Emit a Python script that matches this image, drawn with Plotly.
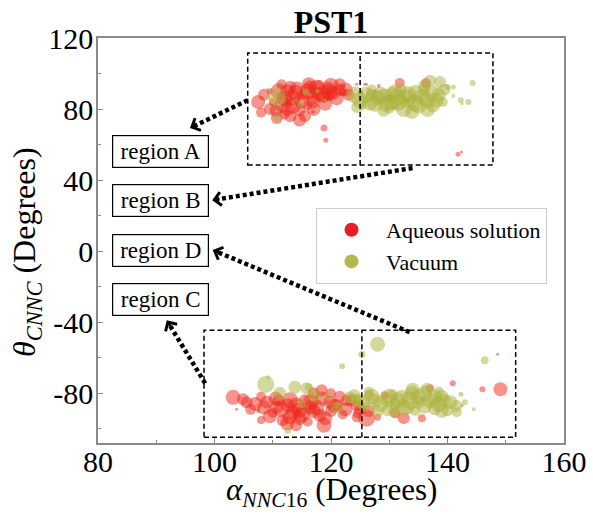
import plotly.graph_objects as go
import math

# ---------------- data ----------------
# Aqueous solution (red)
aq_x = [114.1, 116.4, 119.5, 120.3, 111.7, 113.4, 114.6, 110.7, 114.6, 117.6, 116.9, 118.6,
        116.9, 118.8, 119.1, 124.4, 125.8, 125.3, 126.3, 131.8, 136.3, 128.2, 126.1, 127.5,
        131.0, 141.8, 142.4, 112.5, 115.5, 118.0, 121.5, 113.0, 110.0, 112.0, 116.0, 119.5,
        122.0, 109.5, 117.2, 130.0, 133.0,
        107.5, 108.5, 109.5, 111.0, 112.0, 113.5, 114.0, 115.0, 116.0, 117.0, 117.5, 118.5,
        119.0, 120.0, 121.0, 122.5, 123.0, 112.5, 110.5, 113.0, 115.5, 116.2, 111.5, 119.7,
        108.0, 121.5,
        103.2, 104.9, 106.2, 103.8, 109.0, 110.7, 112.6, 114.6, 116.4, 112.9, 114.6, 118.1,
        118.4, 119.8, 121.0, 122.7, 124.4, 124.4, 118.8, 111.7, 126.1, 124.6, 128.0, 131.0,
        132.5, 135.6, 129.2, 137.0, 140.9, 146.0, 149.1, 148.6, 108.0, 111.0, 115.5, 117.0,
        120.0, 122.0, 113.5, 110.0, 116.0, 107.5,
        105.5, 107.0, 108.5, 109.5, 110.5, 111.5, 112.5, 113.0, 114.0, 115.0, 116.5, 117.5,
        118.5, 119.0, 120.5, 121.5, 122.5, 123.5, 125.0, 126.5, 117.0, 120.0, 114.0, 108.0]
aq_y = [91.8, 92.4, 91.8, 89.0, 82.3, 86.2, 79.4, 75.0, 73.8, 89.0, 84.0, 86.8,
        78.3, 69.3, 62.5, 94.0, 94.0, 89.6, 89.0, 94.6, 94.6, 93.0, 94.0, 89.6,
        81.1, 54.6, 55.8, 90.0, 88.0, 93.5, 91.0, 92.5, 84.0, 77.0, 82.0, 87.0,
        89.5, 90.0, 86.0, 86.0, 85.0,
        84.0, 88.0, 80.0, 90.0, 86.0, 82.0, 89.0, 85.0, 90.0, 80.0, 92.0, 88.0,
        83.0, 93.0, 86.0, 91.0, 88.0, 80.0, 79.0, 76.0, 76.0, 94.0, 94.0, 89.5,
        78.0, 94.0,
        -82.3, -83.4, -89.0, -89.0, -85.0, -87.9, -86.8, -89.6, -87.9, -93.5, -94.0, -92.4,
        -78.3, -85.0, -86.8, -84.0, -86.8, -93.5, -98.0, -95.2, -94.0, -91.3, -93.5, -91.3,
        -94.0, -94.0, -81.1, -77.2, -74.4, -77.7, -77.7, -58.0, -82.0, -84.0, -84.0, -90.0,
        -90.0, -92.0, -91.0, -91.0, -96.0, -90.0,
        -85.0, -86.0, -88.0, -93.0, -83.0, -89.0, -97.0, -84.0, -87.0, -92.0, -85.0, -88.0,
        -83.0, -94.0, -87.0, -82.0, -89.0, -84.0, -89.0, -90.0, -80.0, -80.0, -98.0, -95.0]
aq_s = [13, 13, 13, 14, 16, 16, 12, 12, 13, 13, 13, 12,
        4, 7, 5, 3, 3, 3, 3, 10, 10, 4, 3, 4,
        4, 5, 3, 14, 12, 10, 12, 12, 8, 10, 10, 10,
        8, 6, 10, 8, 6,
        14, 12, 12, 16, 16, 16, 16, 16, 16, 14, 16, 16,
        14, 16, 14, 14, 12, 14, 12, 12, 12, 14, 10, 16,
        10, 12,
        15, 12, 11, 3, 13, 13, 14, 15, 14, 14, 14, 13,
        12, 13, 12, 12, 12, 10, 15, 12, 17, 10, 7, 10,
        12, 8, 8, 8, 6, 6, 14, 3, 10, 12, 12, 14,
        12, 10, 14, 10, 10, 4,
        12, 14, 14, 14, 14, 16, 14, 16, 16, 16, 16, 16,
        14, 14, 14, 12, 14, 12, 12, 12, 12, 10, 12, 8]

# Vacuum (olive)
vac_x = [110.7, 109.0, 110.8, 115.7, 114.8, 117.7, 118.4, 114.0, 124.1, 126.7, 129.2, 131.5,
         133.2, 134.4, 135.6, 137.3, 138.7, 138.1, 136.6, 139.2, 133.9, 130.4, 128.0, 140.0,
         141.0, 141.0, 142.3, 143.6, 144.3, 127.0, 132.0, 136.0, 130.0, 125.5, 142.5, 119.0,
         125.0, 126.0, 127.5, 128.5, 129.5, 130.5, 131.5, 132.5, 133.0, 134.5, 135.0, 136.5,
         137.5, 138.5, 139.5, 129.0, 131.0, 127.0, 124.5, 136.0, 137.0,
         108.8, 109.2, 111.2, 113.8, 115.8, 117.2, 115.0, 121.0, 123.2, 124.4, 121.9, 112.6,
         116.2, 128.0, 125.3, 146.4, 144.5, 142.3, 142.5, 124.6, 127.5, 129.7, 132.1, 133.9,
         136.1, 137.8, 139.5, 140.0, 141.6, 133.2, 129.7, 137.8, 125.8, 126.5, 131.0, 135.0,
         138.5, 130.5, 134.5, 119.5,
         124.0, 125.5, 127.0, 128.5, 130.0, 131.5, 132.5, 133.5, 135.0, 136.0, 137.0, 138.5,
         139.0, 140.5, 141.5, 128.0, 131.0, 134.0, 136.5, 139.0, 126.5, 143.0]
vac_y = [86.8, 91.0, 75.0, 89.6, 82.8, 90.0, 84.0, 85.0, 87.9, 84.0, 86.8, 86.8,
         88.0, 83.4, 86.8, 89.0, 95.2, 85.0, 79.4, 84.0, 78.3, 83.4, 86.2, 92.4,
         92.4, 87.3, 85.0, 84.0, 94.6, 88.0, 91.0, 91.0, 80.0, 82.0, 83.0, 85.0,
         85.0, 88.0, 83.0, 88.0, 83.0, 88.0, 84.0, 80.0, 86.0, 89.0, 82.0, 85.0,
         82.0, 88.0, 91.0, 79.0, 90.0, 91.0, 81.0, 93.0, 96.0,
         -75.0, -71.0, -80.0, -76.6, -77.2, -81.1, -86.2, -87.9, -82.3, -84.0, -64.8, -100.8,
         -76.6, -52.4, -58.0, -61.4, -89.0, -80.5, -86.8, -84.0, -84.0, -84.0, -82.3, -80.0,
         -80.0, -82.3, -84.0, -89.6, -90.7, -87.9, -89.6, -88.5, -87.9, -81.0, -86.0, -85.0,
         -79.0, -80.5, -90.0, -82.0,
         -81.0, -85.0, -82.0, -86.0, -82.0, -84.0, -88.0, -84.0, -82.0, -87.0, -84.0, -86.0,
         -82.0, -85.0, -87.0, -90.0, -90.0, -78.0, -77.5, -90.0, -79.0, -85.0]
vac_s = [18, 3, 8, 7, 7, 4, 3, 4, 17, 17, 17, 17,
         17, 17, 16, 16, 12, 15, 14, 10, 14, 15, 15, 6,
         5, 4, 6, 6, 6, 12, 12, 12, 10, 8, 3, 4,
         16, 16, 16, 16, 16, 16, 18, 16, 18, 16, 16, 16,
         14, 14, 12, 12, 14, 10, 12, 12, 12,
         17, 4, 13, 13, 12, 13, 8, 12, 12, 12, 6, 7,
         8, 15, 7, 8, 4, 5, 4, 13, 14, 14, 15, 15,
         15, 15, 13, 12, 10, 14, 12, 14, 10, 10, 12, 13,
         10, 10, 10, 8,
         12, 14, 16, 16, 16, 16, 16, 18, 16, 16, 16, 16,
         14, 14, 12, 12, 14, 14, 12, 14, 10, 6]

series_names = ["Aqueous solution", "Vacuum"]

region_labels = ["region A", "region B", "region D", "region C"]
region_y = [56.3, 28.7, 0.6, -27.0]
region_x = 90.8

# arrows: (tail_x, tail_y, head_x, head_y)
arrows = [(105.7, 85.0, 95.8, 69.3),
          (134.0, 46.8, 99.6, 28.7),
          (133.5, -45.6, 99.7, 0.6),
          (98.4, -74.4, 91.8, -38.9)]

# dashed boxes: (x0, x1, y0, y1, divider_x)
boxes = [(105.7, 147.8, 48.5, 111.5, 125.0),
         (98.2, 151.7, -104.8, -44.5, 125.3)]

x_ticks = [80, 100, 120, 140, 160]
y_ticks = [-80, -40, 0, 40, 80, 120]
x_minor = [90, 110, 130, 150]
y_minor = [-100, -60, -20, 20, 60, 100]

XR = [80, 160]
YR = [-108, 120]

FONT = "Liberation Serif, Times New Roman, serif"
RED = "rgba(236,34,20,0.7)"
OLIVE = "rgba(172,178,60,0.72)"
RED_LEG = "rgb(232,30,38)"
OLIVE_LEG = "rgb(180,184,78)"

W, H = 593, 514
ML, MR, MT, MB = 98, 29, 38, 71
PW, PH = W - ML - MR, H - MT - MB
sx = PW / (XR[1] - XR[0])
sy = PH / (YR[1] - YR[0])

fig = go.Figure()
fig.add_trace(go.Scatter(x=aq_x, y=aq_y, mode="markers", name=series_names[0], showlegend=False,
                         marker=dict(size=aq_s, color=RED, line=dict(width=0))))
fig.add_trace(go.Scatter(x=vac_x, y=vac_y, mode="markers", name=series_names[1], showlegend=False,
                         marker=dict(size=vac_s, color=OLIVE, line=dict(width=0))))
# legend entries
for nm, col in zip(series_names, [RED_LEG, OLIVE_LEG]):
    fig.add_trace(go.Scatter(x=[None], y=[None], mode="markers", name=nm,
                             marker=dict(size=14, color=col, line=dict(width=0))))

shapes = []
for (x0, x1, y0, y1, xd) in boxes:
    shapes.append(dict(type="rect", xref="x", yref="y", x0=x0, x1=x1, y0=y0, y1=y1,
                       line=dict(color="black", width=1.5, dash="5px,3px")))
    shapes.append(dict(type="line", xref="x", yref="y", x0=xd, x1=xd, y0=y0, y1=y1,
                       line=dict(color="black", width=1.5, dash="5px,3px")))

annotations = []
for (tx, ty, hx, hy) in arrows:
    dxp = (tx - hx) * sx
    dyp = -(ty - hy) * sy
    L = math.hypot(dxp, dyp)
    ux, uy = dxp / L, dyp / L
    shx = hx + (ux * 5) / sx
    shy = hy - (uy * 5) / sy
    shapes.append(dict(type="line", xref="x", yref="y", x0=tx, y0=ty, x1=shx, y1=shy,
                       line=dict(color="black", width=4.5, dash="4px,3px")))
    annotations.append(dict(x=hx, y=hy, xref="x", yref="y", ax=ux * 9, ay=uy * 9,
                            showarrow=True, arrowhead=4, arrowwidth=2.6, arrowsize=1.0,
                            arrowcolor="black", text=""))

for lab, yy in zip(region_labels, region_y):
    annotations.append(dict(x=region_x, y=yy, xref="x", yref="y", text=lab, showarrow=False,
                            font=dict(family=FONT, size=23, color="black"),
                            bordercolor="black", borderwidth=1.2, bgcolor="white",
                            width=95, height=31, borderpad=0))

# axis titles
annotations.append(dict(x=(331 - ML) / PW, y=-(492 - (MT + PH)) / PH, xref="paper", yref="paper",
                        text="<i>α</i><sub><i>NNC</i>16</sub> (Degrees)", showarrow=False,
                        xanchor="center", yanchor="middle",
                        font=dict(family=FONT, size=31, color="black")))
annotations.append(dict(x=(27 - ML) / PW, y=((MT + PH) - 252) / PH, xref="paper", yref="paper",
                        text="<i>θ</i><sub><i>CNNC</i></sub> (Degrees)", showarrow=False,
                        textangle=-90, xanchor="center", yanchor="middle",
                        font=dict(family=FONT, size=32, color="black")))

axis_common = dict(showgrid=False, zeroline=False, showline=True, linecolor="#8a8a8a",
                   linewidth=1.5, mirror=True, ticks="inside", ticklen=5, tickwidth=1,
                   tickcolor="#8a8a8a",
                   tickfont=dict(family=FONT, size=30, color="black"))

fig.update_layout(
    width=W, height=H,
    margin=dict(l=ML, r=MR, t=MT, b=MB, autoexpand=False),
    paper_bgcolor="white", plot_bgcolor="white",
    title=dict(text="<b>PST1</b>", x=(ML + PW / 2) / W, xanchor="center",
               y=1 - 22 / H, yanchor="middle", yref="container",
               font=dict(family=FONT, size=32, color="black")),
    xaxis=dict(range=XR, tickvals=x_ticks, ticktext=[str(v) for v in x_ticks],
               ticklabelstandoff=-9,
               minor=dict(tickvals=x_minor, ticks="inside", ticklen=3, tickcolor="#8a8a8a"),
               **axis_common),
    yaxis=dict(range=YR, tickvals=y_ticks, ticktext=[str(v) for v in y_ticks],
               ticklabelstandoff=-3,
               minor=dict(tickvals=y_minor, ticks="inside", ticklen=3, tickcolor="#8a8a8a"),
               **axis_common),
    legend=dict(x=(316 - ML) / PW, y=((MT + PH) - 208) / PH, xanchor="left", yanchor="top",
                bgcolor="white", bordercolor="#cccccc", borderwidth=1,
                font=dict(family=FONT, size=22, color="black"),
                itemsizing="trace", itemwidth=59),
    shapes=shapes, annotations=annotations,
)

fig.write_html("out.html", config={"displayModeBar": False})

# remove the browser's default body margin so the figure sits at the page origin
with open("out.html", "r", encoding="utf-8") as f:
    html = f.read()
html = html.replace("<head>", "<head><style>html,body{margin:0;padding:0;}</style>", 1)
with open("out.html", "w", encoding="utf-8") as f:
    f.write(html)
